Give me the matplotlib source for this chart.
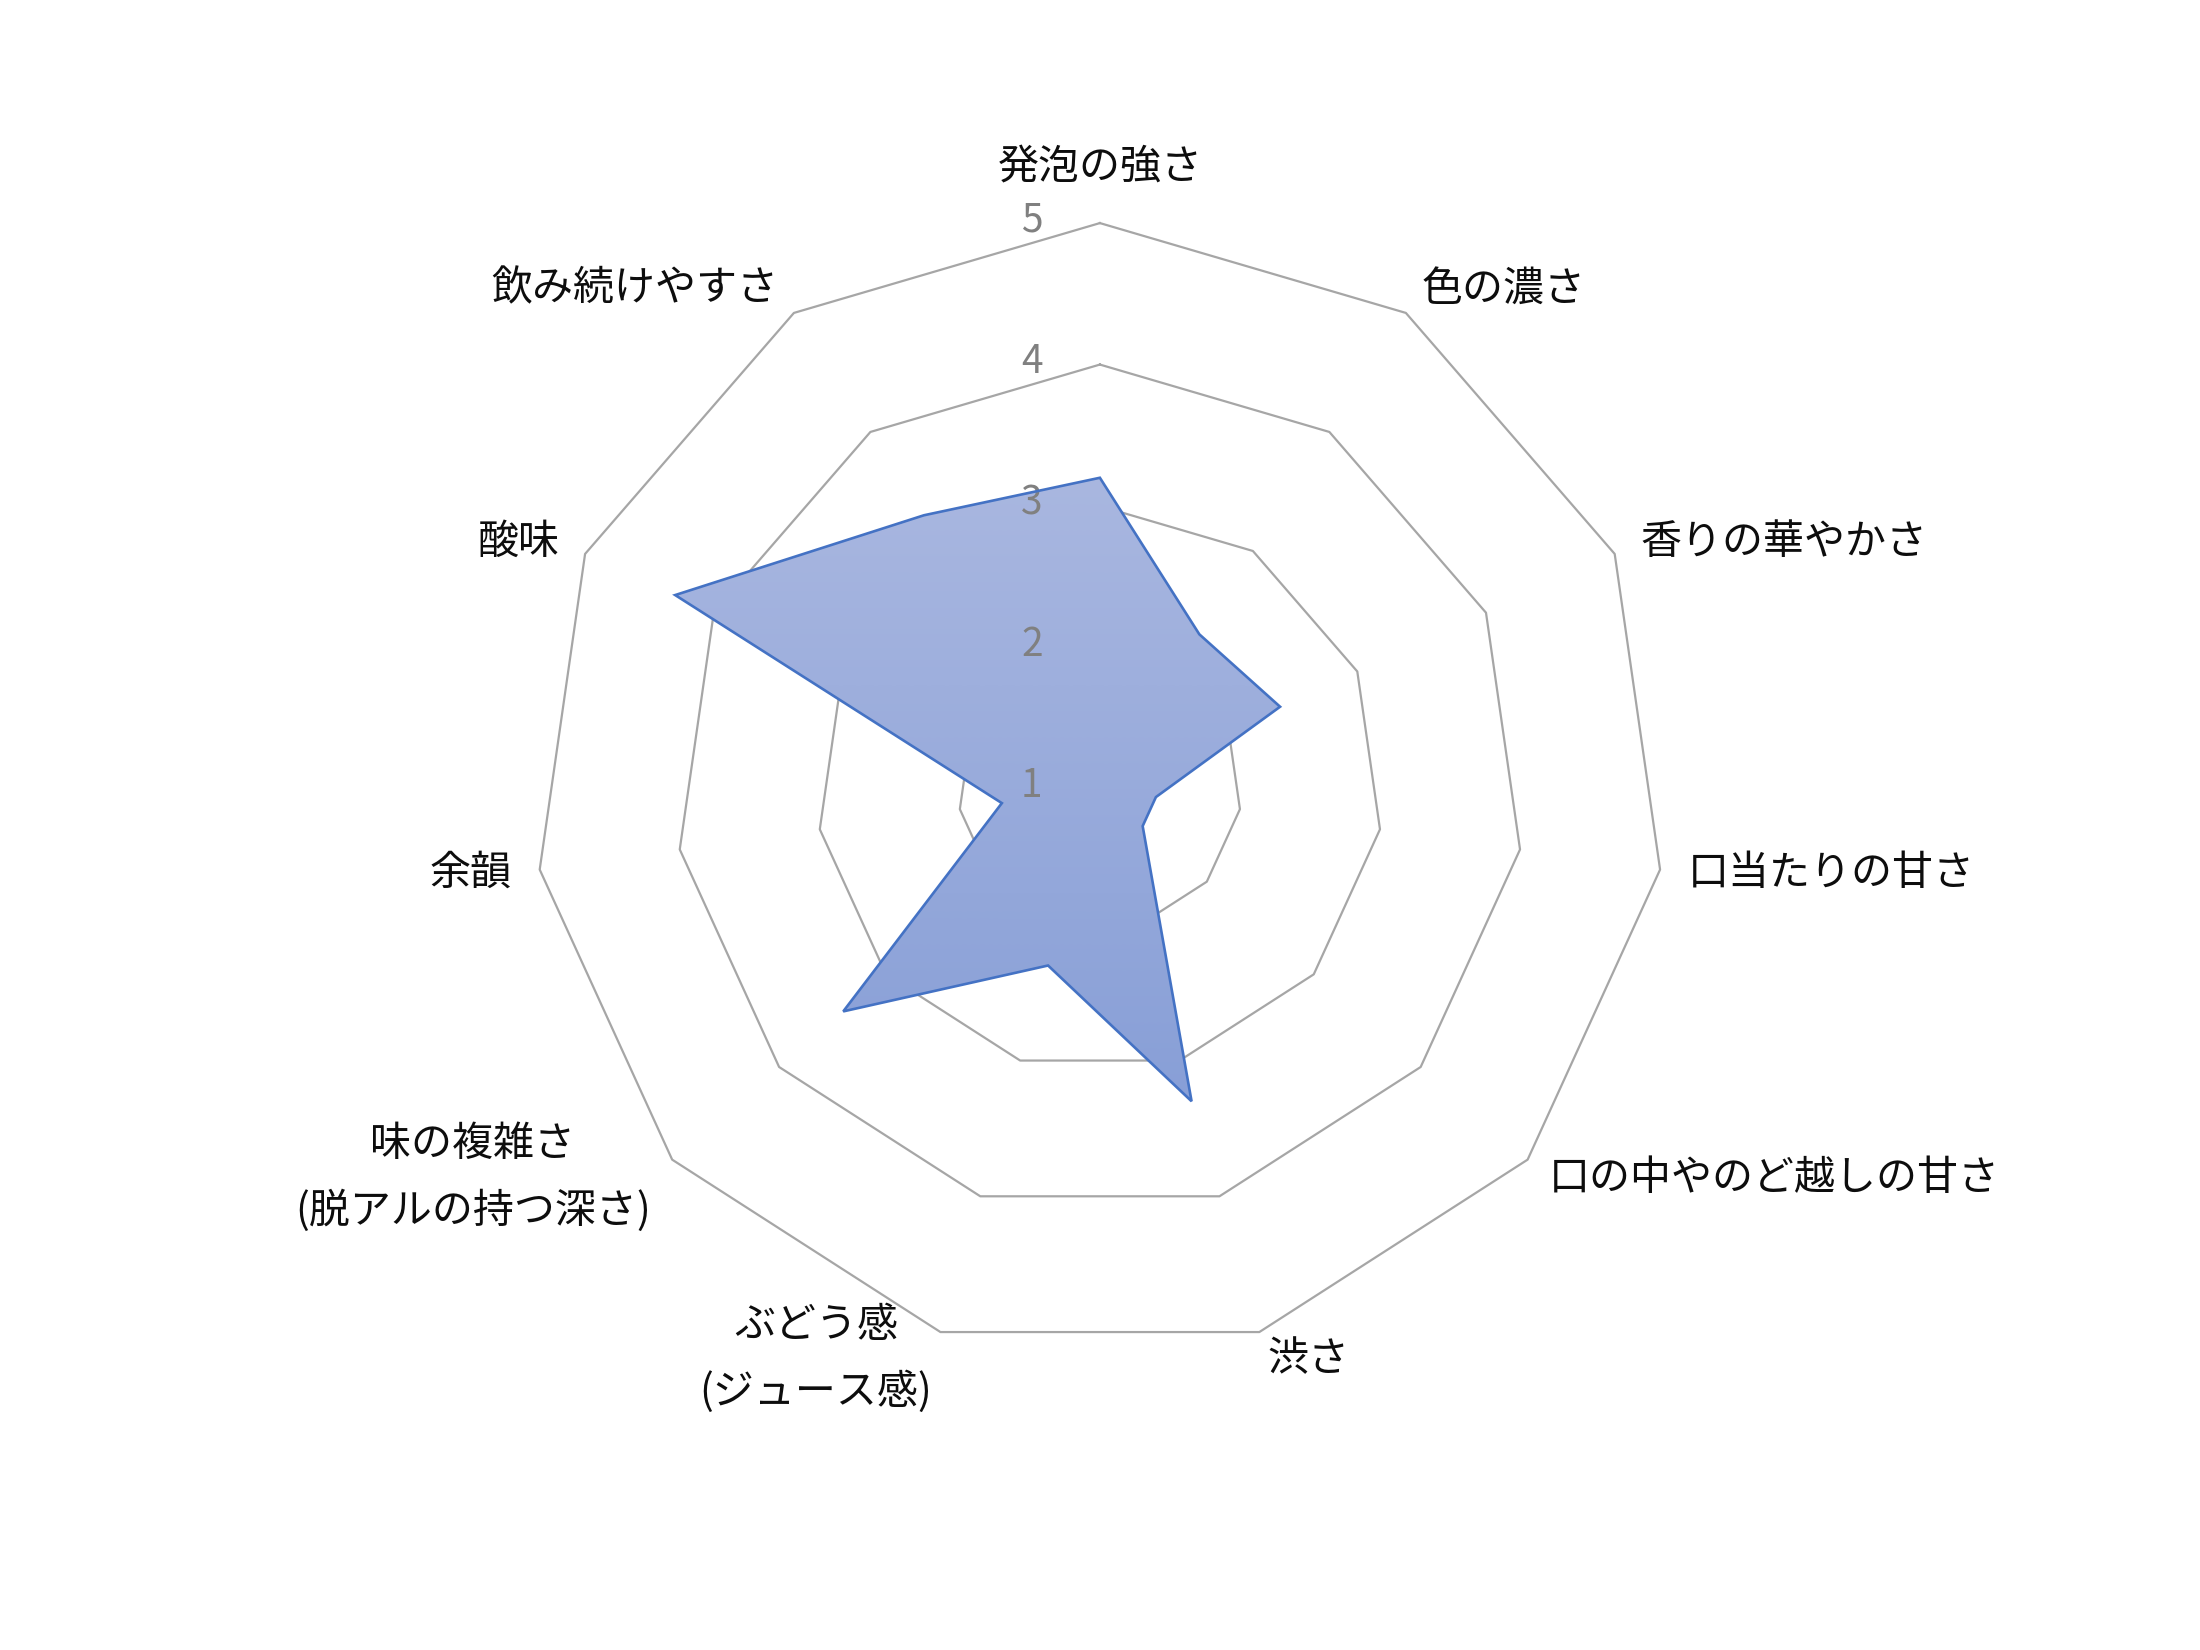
import numpy as np
import matplotlib
matplotlib.use("Agg")
import matplotlib.pyplot as plt
from matplotlib.image import AxesImage
from matplotlib.colors import LinearSegmentedColormap

plt.rcParams['font.family'] = ['Noto Sans CJK JP', 'DejaVu Sans']

# data
categories = [
    "発泡の強さ",
    "色の濃さ",
    "香りの華やかさ",
    "口当たりの甘さ",
    "口の中やのど越しの甘さ",
    "渋さ",
    "ぶどう感\n(ジュース感)",
    "味の複雑さ\n(脱アルの持つ深さ)",
    "余韻",
    "酸味",
    "飲み続けやすさ",
]
scores = [3.2, 2.3, 2.4, 1.4, 1.4, 3.3, 2.3, 3.4, 1.7, 4.3, 3.3]
ring_levels = [2, 3, 4, 5]
tick_values = [1, 2, 3, 4, 5]

grid_color = "#A6A6A6"
line_color = "#4472C4"
fill_top = "#A9B7E0"
fill_bottom = "#889FD7"

n = len(categories)
angles = np.linspace(0, 2 * np.pi, n, endpoint=False)
closed = np.append(angles, angles[0])

fig = plt.figure(figsize=(22, 16.5), dpi=100)
ax = fig.add_axes([0.2427, 0.1788, 0.5145, 0.686], projection="polar")
ax.set_theta_zero_location("N")
ax.set_theta_direction(-1)
ax.set_ylim(1, 5)
ax.grid(False)
ax.set_xticks([])
ax.set_yticks([])
ax.spines["polar"].set_visible(False)
ax.patch.set_visible(False)

# polygon rings
for lv in ring_levels:
    ax.plot(closed, [lv] * (n + 1), color=grid_color, lw=1.6, zorder=1, clip_on=False)

# series outline
vals = np.append(scores, scores[0])
poly = ax.fill(closed, vals, facecolor="none", edgecolor=line_color, lw=1.9,
               zorder=4, clip_on=False)[0]

# vertical gradient clipped to the series area
pts = ax.transData.transform(np.column_stack([closed, vals]))
pts = ax.transAxes.inverted().transform(pts)
y_lo, y_hi = pts[:, 1].min(), pts[:, 1].max()
cmap = LinearSegmentedColormap.from_list("fillgrad", [fill_bottom, fill_top])
grad = np.linspace(0, 1, 256).reshape(-1, 1)
im = AxesImage(ax, cmap=cmap, extent=(0, 1, y_lo, y_hi), origin="lower",
               interpolation="bilinear", transform=ax.transAxes, zorder=3)
im.set_data(grad)
ax.add_image(im)
im.set_clip_path(poly)

# value labels on the vertical axis
for v in tick_values:
    ax.annotate(str(v), xy=(0, v), xytext=(-49, 2), textcoords="offset points",
                ha="center", va="center", fontsize=28, color="#808080",
                annotation_clip=False)

# category labels
for ang, name in zip(angles, categories):
    s = np.sin(ang)
    if abs(s) < 0.05:
        ha, va, r = "center", "bottom", 5.25
    else:
        ha = "left" if s > 0 else "right"
        va, r = "center", 5.2
    ax.text(ang, r, name, ha=ha, va=va, fontsize=29.5, color="#0D0D0D",
            multialignment="center", linespacing=1.72)

fig.savefig("out.png", dpi=100, facecolor="white")
